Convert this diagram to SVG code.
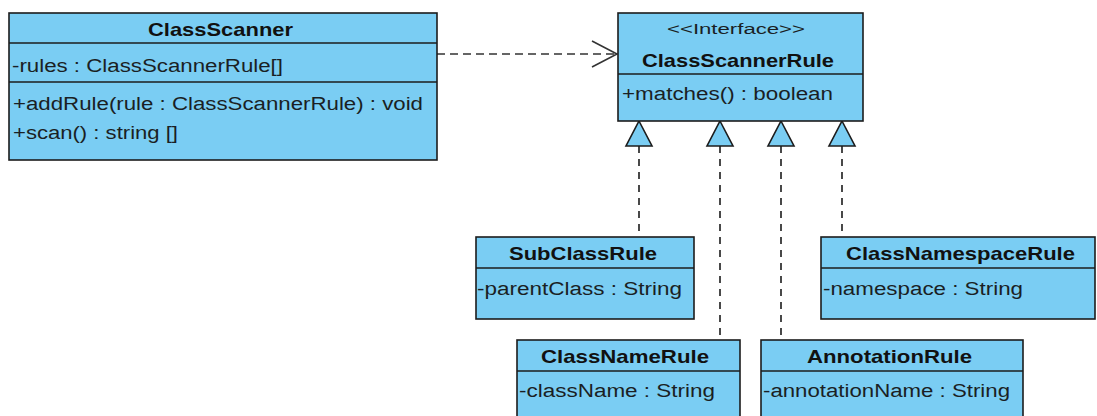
<svg xmlns="http://www.w3.org/2000/svg" width="1097" height="416" viewBox="0 0 1097 416">
  <defs>
    <style>
      .box { fill: #7acdf3; stroke: #1c1c1c; stroke-width: 1.6; }
      .sep { stroke: #1c1c1c; stroke-width: 1.6; fill: none; }
      .title { font-family: "Liberation Sans", Arial, sans-serif; font-weight: bold; font-size: 19px; fill: #111; }
      .member { font-family: "Liberation Sans", Arial, sans-serif; font-size: 18px; fill: #1a1f24; }
      .stereo { font-family: "Liberation Sans", Arial, sans-serif; font-size: 15.5px; fill: #1a1f24; }
      .dep { stroke: #333; stroke-width: 1.6; fill: none; stroke-dasharray: 8 5; }
      .real { stroke: #1c1c1c; stroke-width: 1.6; fill: none; stroke-dasharray: 7 6; }
      .open { stroke: #333; stroke-width: 1.6; fill: none; }
      .tri { fill: #7acdf3; stroke: #1c1c1c; stroke-width: 1.6; stroke-linejoin: miter; }
    </style>
  </defs>
  <rect width="1097" height="416" fill="#ffffff"/>

  <!-- connectors -->
  <g id="connectors">
    <!-- dependency: ClassScanner uses ClassScannerRule -->
    <line class="dep" x1="437" y1="54" x2="616" y2="54"/>
    <polyline class="open" points="592,41 617,54 592,67"/>
    <!-- realizations -->
    <line class="real" x1="639" y1="146" x2="639" y2="237"/>
    <line class="real" x1="720" y1="146" x2="720" y2="340"/>
    <line class="real" x1="781" y1="146" x2="781" y2="340"/>
    <line class="real" x1="842" y1="146" x2="842" y2="237"/>
    <polygon class="tri" points="639,121 652,146 626,146"/>
    <polygon class="tri" points="720,121 733,146 707,146"/>
    <polygon class="tri" points="781,121 794,146 768,146"/>
    <polygon class="tri" points="842,121 855,146 829,146"/>
  </g>

  <!-- ClassScanner -->
  <g id="ClassScanner">
    <rect class="box" x="9" y="13" width="428" height="147"/>
    <line class="sep" x1="9" y1="43" x2="437" y2="43"/>
    <line class="sep" x1="9" y1="82" x2="437" y2="82"/>
    <text class="title" x="148" y="36" textLength="145" lengthAdjust="spacingAndGlyphs">ClassScanner</text>
    <text class="member" x="12" y="72" textLength="271" lengthAdjust="spacingAndGlyphs">-rules : ClassScannerRule[]</text>
    <text class="member" x="13" y="110" textLength="410" lengthAdjust="spacingAndGlyphs">+addRule(rule : ClassScannerRule) : void</text>
    <text class="member" x="13" y="139" textLength="165" lengthAdjust="spacingAndGlyphs">+scan() : string []</text>
  </g>

  <!-- ClassScannerRule interface -->
  <g id="ClassScannerRule">
    <rect class="box" x="618" y="13" width="245" height="108"/>
    <line class="sep" x1="618" y1="74" x2="863" y2="74"/>
    <text class="stereo" x="667" y="34" textLength="138" lengthAdjust="spacingAndGlyphs">&lt;&lt;Interface&gt;&gt;</text>
    <text class="title" x="642" y="67" textLength="192" lengthAdjust="spacingAndGlyphs">ClassScannerRule</text>
    <text class="member" x="622" y="100" textLength="211" lengthAdjust="spacingAndGlyphs">+matches() : boolean</text>
  </g>

  <!-- SubClassRule -->
  <g id="SubClassRule">
    <rect class="box" x="476" y="237" width="218" height="82"/>
    <line class="sep" x1="476" y1="268" x2="694" y2="268"/>
    <text class="title" x="509" y="260" textLength="148" lengthAdjust="spacingAndGlyphs">SubClassRule</text>
    <text class="member" x="477" y="295" textLength="205" lengthAdjust="spacingAndGlyphs">-parentClass : String</text>
  </g>

  <!-- ClassNamespaceRule -->
  <g id="ClassNamespaceRule">
    <rect class="box" x="821" y="237" width="274" height="82"/>
    <line class="sep" x1="821" y1="268" x2="1095" y2="268"/>
    <text class="title" x="846" y="260" textLength="229" lengthAdjust="spacingAndGlyphs">ClassNamespaceRule</text>
    <text class="member" x="823" y="295" textLength="200" lengthAdjust="spacingAndGlyphs">-namespace : String</text>
  </g>

  <!-- ClassNameRule -->
  <g id="ClassNameRule">
    <rect class="box" x="517" y="340" width="223" height="90"/>
    <line class="sep" x1="517" y1="371" x2="740" y2="371"/>
    <text class="title" x="541" y="363" textLength="168" lengthAdjust="spacingAndGlyphs">ClassNameRule</text>
    <text class="member" x="519" y="397" textLength="196" lengthAdjust="spacingAndGlyphs">-className : String</text>
  </g>

  <!-- AnnotationRule -->
  <g id="AnnotationRule">
    <rect class="box" x="761" y="340" width="262" height="90"/>
    <line class="sep" x1="761" y1="371" x2="1023" y2="371"/>
    <text class="title" x="807" y="363" textLength="165" lengthAdjust="spacingAndGlyphs">AnnotationRule</text>
    <text class="member" x="763" y="397" textLength="247" lengthAdjust="spacingAndGlyphs">-annotationName : String</text>
  </g>
</svg>
